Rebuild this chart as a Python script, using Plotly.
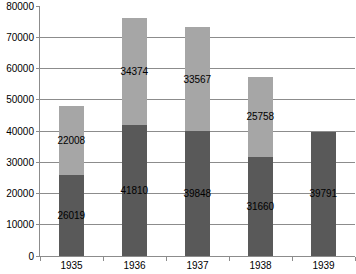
import plotly.graph_objects as go

years = ["1935", "1936", "1937", "1938", "1939"]
bottom_vals = [26019, 41810, 39848, 31660, 39791]
top_vals = [22008, 34374, 33567, 25758, None]
y_ticks = [0, 10000, 20000, 30000, 40000, 50000, 60000, 70000, 80000]

fig = go.Figure()
fig.add_trace(go.Bar(
    x=years, y=bottom_vals, marker_color="#595959", marker_line_width=0,
    text=[str(v) for v in bottom_vals], textposition="inside",
    insidetextanchor="middle", textangle=0, constraintext="none",
    textfont=dict(color="black", size=10, family="Liberation Sans, Arial"),
))
fig.add_trace(go.Bar(
    x=years, y=top_vals, marker_color="#a6a6a6", marker_line_width=0,
    text=[str(v) if v is not None else "" for v in top_vals], textposition="inside",
    insidetextanchor="middle", textangle=0, constraintext="none",
    textfont=dict(color="black", size=10, family="Liberation Sans, Arial"),
))
fig.update_layout(
    barmode="stack", bargap=0.6, showlegend=False,
    width=356, height=274,
    margin=dict(l=40, r=1, t=6, b=18, autoexpand=False),
    paper_bgcolor="white", plot_bgcolor="white",
    font=dict(family="Liberation Sans, Arial", size=10, color="black"),
)
fig.update_yaxes(
    range=[0, 80000], tickvals=y_ticks, ticktext=[str(v) for v in y_ticks],
    showgrid=True, gridcolor="#8c8c8c", gridwidth=1,
    showline=True, linecolor="#8c8c8c", zeroline=False,
    ticks="outside", ticklen=3, tickcolor="#8c8c8c",
    tickfont=dict(size=10), automargin=False, ticklabeloverflow="allow",
)
fig.update_xaxes(
    showline=True, linecolor="#8c8c8c", ticks="outside", tickson="boundaries",
    ticklen=4, tickcolor="#8c8c8c", tickfont=dict(size=10), automargin=False,
)
fig.write_html(
    "out.html",
    config={"displayModeBar": False, "staticPlot": True},
    post_script="document.body.style.margin='0';document.body.style.overflow='hidden';",
)
